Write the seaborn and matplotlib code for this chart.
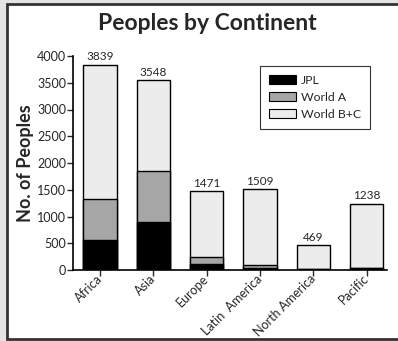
import matplotlib
matplotlib.use("Agg")
import matplotlib.pyplot as plt
from matplotlib.patches import Rectangle, Patch
import numpy as np
import pandas as pd
import seaborn as sns

continents = ["Africa", "Asia", "Europe", "Latin  America", "North America", "Pacific"]
jpl = [565, 900, 115, 40, 15, 30]
world_a = [755, 955, 130, 45, 5, 5]
world_bc = [2519, 1693, 1226, 1424, 449, 1203]
series_names = ["JPL", "World A", "World B+C"]
series_colors = ["#000000", "#a6a6a6", "#ececec"]
y_ticks = [0, 500, 1000, 1500, 2000, 2500, 3000, 3500, 4000]

sns.set_theme(style="white")
plt.rcParams["font.family"] = ["Lato", "DejaVu Sans"]

df = pd.DataFrame({"continent": continents, "JPL": jpl,
                   "World A": world_a, "World B+C": world_bc})
df["total"] = df["JPL"] + df["World A"] + df["World B+C"]
df["lower2"] = df["JPL"] + df["World A"]

fig = plt.figure(figsize=(3.98, 3.41), dpi=100)
fig.patch.set_facecolor("#e4e4e4")
fig.patches.append(Rectangle((7 / 398, 2 / 341), 1.2, 335 / 341,
                             transform=fig.transFigure, facecolor="white",
                             edgecolor="#333333", linewidth=2, zorder=-10))

ax = fig.add_axes([73 / 398, 71 / 341, 314 / 398, 214 / 341])
ax.set_facecolor("none")

# stacked bars drawn back to front from cumulative heights
layers = [("total", series_colors[2]), ("lower2", series_colors[1]), ("JPL", series_colors[0])]
for col, color in layers:
    sns.barplot(data=df, x="continent", y=col, color=color, saturation=1,
                width=0.62, edgecolor="black", linewidth=1, ax=ax)

for i, t in enumerate(df["total"]):
    ax.text(i, t + 45, f"{t}", ha="center", va="bottom", fontsize=8.5, clip_on=False)

ax.set_xlim(-0.506, 5.38)
ax.set_ylim(0, 4000)
ax.set_yticks(y_ticks)
ax.tick_params(axis="y", labelsize=9, length=4, width=1, direction="out", left=True, pad=1)
ax.tick_params(axis="x", labelsize=9, length=4, width=1, direction="out", bottom=True, pad=1)
plt.setp(ax.get_xticklabels(), rotation=45, ha="right", va="center",
         rotation_mode="anchor")
ax.set_xlabel("")
ax.set_ylabel("No. of Peoples", fontsize=13, fontweight="bold", labelpad=2)
sns.despine(ax=ax)
for s in ["left", "bottom"]:
    ax.spines[s].set_color("black")
    ax.spines[s].set_linewidth(1.2)

fig.text(0.52, 0.93, "Peoples by Continent", ha="center", va="center",
         fontsize=16.5, fontweight="bold")

handles = [Patch(facecolor=c, edgecolor="black", linewidth=0.8, label=n)
           for n, c in zip(series_names, series_colors)]
leg = ax.legend(handles=handles, loc="upper left", bbox_to_anchor=(0.595, 0.955),
                fontsize=8.8, frameon=True, fancybox=False, handlelength=2.2,
                handleheight=0.7, labelspacing=0.5, handletextpad=0.4,
                borderpad=0.75, borderaxespad=0)
leg.get_frame().set_edgecolor("black")
leg.get_frame().set_linewidth(0.8)

fig.savefig("out.png", dpi=100, facecolor=fig.get_facecolor())
